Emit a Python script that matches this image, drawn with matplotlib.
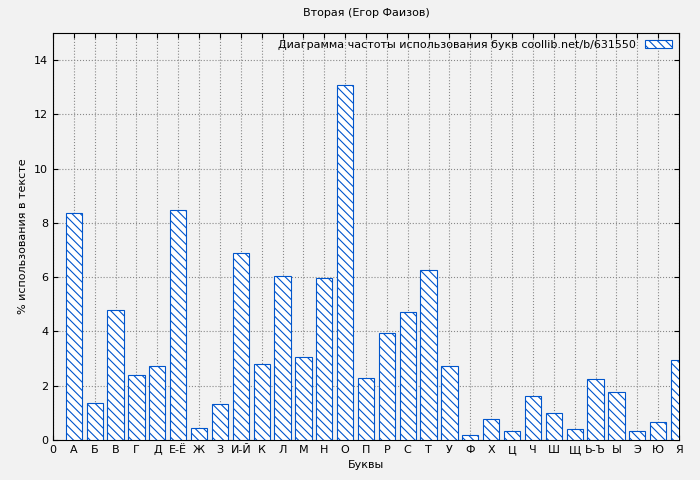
import matplotlib
matplotlib.use("Agg")
import matplotlib.pyplot as plt

labels = ["0","А","Б","В","Г","Д","Е-Ё","Ж","З","И-Й","К","Л","М","Н","О","П","Р","С","Т","У","Ф","Х","Ц","Ч","Ш","Щ","Ь-Ъ","Ы","Э","Ю","Я"]
values = [8.35,1.36,4.78,2.39,2.72,8.46,0.44,1.32,6.91,2.79,6.03,3.05,5.96,13.09,2.28,3.93,4.71,6.25,2.72,0.18,0.77,0.33,1.62,0.99,0.40,2.24,1.76,0.33,0.66,2.94]

plt.rcParams['hatch.color'] = '#0055cc'
plt.rcParams['hatch.linewidth'] = 0.8
fig = plt.figure(figsize=(7, 4.8), dpi=100, facecolor='#f2f2f2')
ax = fig.add_axes([53/700, 1-440/480, 626/700, 407/480])
ax.set_facecolor('#f2f2f2')
x = list(range(1, len(values)+1))
ax.bar(x, values, width=0.78, color='white', edgecolor='#0055cc', hatch='\\\\\\\\', linewidth=0.8,
       label='Диаграмма частоты использования букв coollib.net/b/631550', zorder=3)
ax.set_xlim(0, 30)
ax.set_ylim(0, 15)
ax.set_xticks(range(0, 31))
ax.set_xticklabels(labels, fontsize=8)
ax.set_yticks(range(0, 15, 2))
ax.tick_params(labelsize=8, direction='in', top=True, right=True)
ax.grid(True, linestyle=':', color='#888888', linewidth=0.8, zorder=0)
ax.set_xlabel('Буквы', fontsize=8)
ax.set_ylabel('% использования в тексте', fontsize=8)
ax.set_title('Вторая (Егор Фаизов)', fontsize=8, pad=12)
ax.legend(loc='upper right', fontsize=8, frameon=False, markerfirst=False, handlelength=2.5, borderaxespad=0.2)
fig.savefig('out.png', dpi=100, facecolor='#f2f2f2')
